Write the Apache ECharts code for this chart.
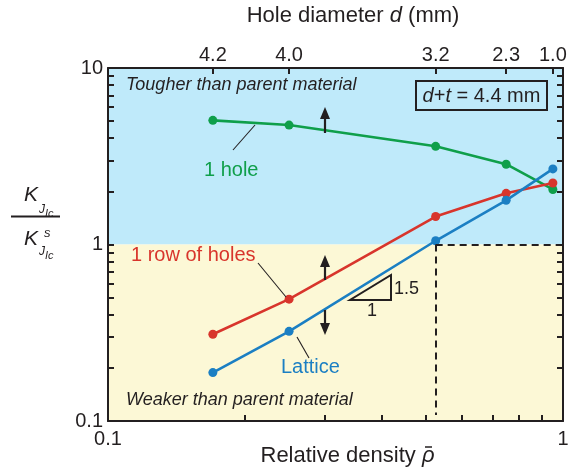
<!DOCTYPE html>
<html>
<head>
<meta charset="utf-8">
<script src="https://cdn.jsdelivr.net/npm/echarts@6/dist/echarts.min.js"></script>
<style>
  html, body { margin: 0; padding: 0; background: #fff; }
  #chart { width: 569px; height: 474px; }
</style>
</head>
<body>
<div id="chart"></div>
<script>
// Relative density of each specimen and the matching hole diameter (mm)
const relDensity = [0.17, 0.25, 0.525, 0.75, 0.95];
const holeDiameter = ['4.2', '4.0', '3.2', '2.3', '1.0'];

// Normalised toughness K_JIc / K^s_JIc
const oneHole = [5.05, 4.75, 3.6, 2.85, 2.05];
const rowOfHoles = [0.31, 0.49, 1.44, 1.95, 2.23];
const lattice = [0.188, 0.322, 1.05, 1.78, 2.68];

// Tick positions and labelled ticks
const xTicks = [0.1, 0.2, 0.3, 0.4, 0.5, 0.6, 0.7, 0.8, 0.9, 1];
const xTickLabels = [0.1, 1];
const yTicks = [0.1, 0.2, 0.3, 0.4, 0.5, 0.6, 0.7, 0.8, 0.9, 1, 2, 3, 4, 5, 6, 7, 8, 9, 10];
const yTickLabels = [0.1, 1, 10];

// Parent-material level separating the two regions
const parentLevel = 1;
const xRange = [0.1, 1];
const yRange = [0.1, 10];

const FONT = 'Liberation Sans, Arial, sans-serif';
const INK = '#231f20';
const GREEN = '#0f9f4a';
const RED = '#d8352c';
const BLUE = '#1b7fc3';

const chart = echarts.init(document.getElementById('chart'), null, { renderer: 'canvas' });

const fmt = v => (Math.abs(v - 0.1) < 1e-9 ? '0.1' : String(Math.round(v)));

function lineSeries(name, values, color) {
  return {
    name: name,
    type: 'line',
    z: 3,
    data: relDensity.map((x, i) => [x, values[i]]),
    symbol: 'circle',
    symbolSize: 9,
    lineStyle: { color: color, width: 2.6 },
    itemStyle: { color: color },
    silent: true
  };
}

const axisLineStyle = { show: true, lineStyle: { color: INK, width: 2 } };

chart.setOption({
  animation: false,
  backgroundColor: '#ffffff',
  grid: { left: 108, top: 68, right: 6, bottom: 53, containLabel: false, outerBoundsMode: 'none' },
  xAxis: [
    {
      type: 'log', logBase: 10, min: xRange[0], max: xRange[1], position: 'bottom', z: 10,
      axisLine: axisLineStyle,
      axisTick: { show: true, inside: true, length: 6, customValues: xTicks, lineStyle: { color: INK, width: 2 } },
      axisLabel: { show: true, customValues: xTickLabels, formatter: fmt, color: INK, fontSize: 20, fontFamily: FONT, margin: 8 },
      splitLine: { show: false },
      name: 'Relative density {i|ρ}',
      nameLocation: 'middle', nameGap: 24, nameMoveOverlap: false,
      nameTextStyle: {
        color: INK, fontSize: 22, fontFamily: FONT, verticalAlign: 'top', padding: [0, 0, 0, 24],
        rich: { i: { fontStyle: 'italic', fontSize: 22, fontFamily: FONT, color: INK } }
      }
    },
    {
      type: 'log', logBase: 10, min: xRange[0], max: xRange[1], position: 'top', z: 10,
      axisLine: axisLineStyle,
      axisTick: { show: true, inside: true, length: 6, customValues: relDensity, lineStyle: { color: INK, width: 2 } },
      axisLabel: {
        show: true, customValues: relDensity, color: INK, fontSize: 20, fontFamily: FONT, margin: 3,
        formatter: v => {
          const i = relDensity.findIndex(r => Math.abs(r - v) < 1e-6);
          return i >= 0 ? holeDiameter[i] : '';
        }
      },
      splitLine: { show: false },
      name: 'Hole diameter {i|d} (mm)',
      nameLocation: 'middle', nameGap: 41, nameMoveOverlap: false,
      nameTextStyle: {
        color: INK, fontSize: 22, fontFamily: FONT, padding: [0, 0, 0, 35],
        rich: { i: { fontStyle: 'italic', fontSize: 22, fontFamily: FONT, color: INK } }
      }
    }
  ],
  yAxis: [
    {
      type: 'log', logBase: 10, min: yRange[0], max: yRange[1], position: 'left', z: 10,
      axisLine: axisLineStyle,
      axisTick: { show: true, inside: true, length: 6, customValues: yTicks, lineStyle: { color: INK, width: 2 } },
      axisLabel: { show: true, customValues: yTickLabels, formatter: fmt, color: INK, fontSize: 20, fontFamily: FONT, margin: 5 },
      splitLine: { show: false }
    },
    {
      type: 'log', logBase: 10, min: yRange[0], max: yRange[1], position: 'right', z: 10,
      axisLine: axisLineStyle,
      axisTick: { show: true, inside: true, length: 6, customValues: yTicks, lineStyle: { color: INK, width: 2 } },
      axisLabel: { show: false },
      splitLine: { show: false }
    }
  ],
  series: [
    {
      // shaded regions and the dashed parent-material guide
      name: 'regions', type: 'line', data: [], z: 1, silent: true,
      markArea: {
        silent: true,
        data: [
          [{ yAxis: parentLevel, itemStyle: { color: '#bfeafa' } }, { yAxis: yRange[1] }],
          [{ yAxis: yRange[0], itemStyle: { color: '#fcf8d6' } }, { yAxis: parentLevel }]
        ]
      },
      markLine: {
        silent: true, symbol: 'none', label: { show: false },
        lineStyle: { color: INK, width: 2, type: [7, 5] },
        data: [
          [{ coord: [relDensity[2], parentLevel] }, { coord: [xRange[1], parentLevel] }],
          [{ coord: [relDensity[2], parentLevel] }, { coord: [relDensity[2], 0.108] }]
        ]
      }
    },
    lineSeries('1 hole', oneHole, GREEN),
    lineSeries('1 row of holes', rowOfHoles, RED),
    lineSeries('Lattice', lattice, BLUE)
  ]
});

// Annotation helpers
function arrow(x, tail, tip) {
  const dir = tip < tail ? -1 : 1;
  const head = 12, half = 5;
  return [
    { type: 'line', z: 20, shape: { x1: x, y1: tail, x2: x, y2: tip - dir * head }, style: { stroke: INK, lineWidth: 2.2 } },
    { type: 'polygon', z: 20, shape: { points: [[x, tip], [x - half, tip - dir * head], [x + half, tip - dir * head]] }, style: { fill: INK } }
  ];
}
function leader(x1, y1, x2, y2) {
  return { type: 'line', z: 20, shape: { x1: x1, y1: y1, x2: x2, y2: y2 }, style: { stroke: INK, lineWidth: 1.1 } };
}
function label(text, x, y, opts) {
  return {
    type: 'text', z: 20, x: x, y: y,
    style: Object.assign({ text: text, fill: INK, font: '18px ' + FONT, align: 'left', verticalAlign: 'middle' }, opts || {})
  };
}

const graphics = [
  label('Tougher than parent material', 126, 85, { font: 'italic 18px ' + FONT }),
  label('Weaker than parent material', 126, 400, { font: 'italic 18px ' + FONT }),

  // parameter box
  { type: 'rect', z: 20, shape: { x: 416, y: 81, width: 131, height: 29 }, style: { fill: null, stroke: INK, lineWidth: 2 } },
  {
    type: 'text', z: 21, x: 481.5, y: 96,
    style: {
      text: '{i|d}+{i|t} = 4.4 mm', align: 'center', verticalAlign: 'middle', fill: INK, font: '20px ' + FONT,
      rich: { i: { fontStyle: 'italic', fontSize: 20, fontFamily: FONT, fill: INK } }
    }
  },

  // series labels with leaders
  label('1 hole', 204, 170, { fill: GREEN, font: '20px ' + FONT }),
  leader(233, 150, 255, 125),
  label('1 row of holes', 131, 255, { fill: RED, font: '20px ' + FONT }),
  leader(258, 263, 286, 297),
  label('Lattice', 281, 367, { fill: BLUE, font: '20px ' + FONT }),
  leader(309, 358, 297, 337),

  // slope triangle
  { type: 'polygon', z: 20, shape: { points: [[350, 300], [391, 300], [391, 275]] }, style: { fill: null, stroke: INK, lineWidth: 2 } },
  label('1.5', 394, 289, { font: '18px ' + FONT }),
  label('1', 372, 311, { font: '18px ' + FONT, align: 'center' }),

  // bar over the density symbol
  { type: 'line', z: 20, shape: { x1: 425, y1: 447, x2: 432, y2: 447 }, style: { stroke: INK, lineWidth: 1.5 } },

  // y-axis quantity: K_JIc / K^s_JIc
  { type: 'line', z: 20, shape: { x1: 11, y1: 216.5, x2: 60, y2: 216.5 }, style: { stroke: INK, lineWidth: 2 } },
  label('K', 24, 195, { font: 'italic 21px ' + FONT }),
  label('J', 39, 210, { font: 'italic 12px ' + FONT }),
  label('Ic', 45, 214, { font: 'italic 11px ' + FONT }),
  label('K', 24, 239, { font: 'italic 21px ' + FONT }),
  label('s', 44, 233, { font: 'italic 13px ' + FONT }),
  label('J', 39, 252, { font: 'italic 12px ' + FONT }),
  label('Ic', 45, 256, { font: 'italic 11px ' + FONT })
]
  .concat(arrow(325, 133, 107))
  .concat(arrow(325, 280, 255))
  .concat(arrow(325, 310, 335));

chart.setOption({ graphic: graphics });
</script>
</body>
</html>
